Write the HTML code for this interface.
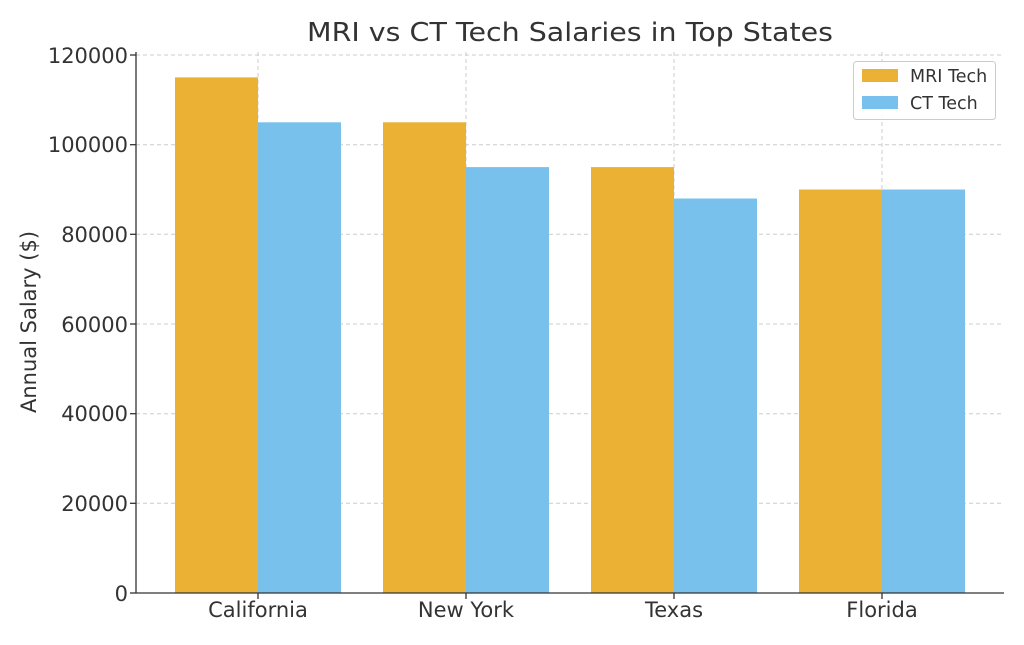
<!DOCTYPE html>
<html><head><meta charset="utf-8"><style>
body{margin:0;background:#fff;}
svg text{font-family:"DejaVu Sans","Liberation Sans",sans-serif;fill:#333;}
</style></head><body>
<svg width="1024" height="640" xmlns="http://www.w3.org/2000/svg">
<rect width="1024" height="640" fill="#fff"/>
<text x="570" y="41" font-size="26" text-anchor="middle" textLength="526" lengthAdjust="spacingAndGlyphs">MRI vs CT Tech Salaries in Top States</text>
<g stroke="#ccc" stroke-width="1" stroke-dasharray="4,3">
<line x1="136" x2="1004" y1="503.3" y2="503.3"/>
<line x1="136" x2="1004" y1="413.7" y2="413.7"/>
<line x1="136" x2="1004" y1="324" y2="324"/>
<line x1="136" x2="1004" y1="234.3" y2="234.3"/>
<line x1="136" x2="1004" y1="144.7" y2="144.7"/>
<line x1="136" x2="1004" y1="55" y2="55"/>
<line x1="258" x2="258" y1="52" y2="593"/>
<line x1="466" x2="466" y1="52" y2="593"/>
<line x1="674" x2="674" y1="52" y2="593"/>
<line x1="882" x2="882" y1="52" y2="593"/>
</g>
<g fill="#EBB134">
<rect x="175" y="77.4" width="83" height="515.6"/>
<rect x="383" y="122.3" width="83" height="470.7"/>
<rect x="591" y="167.1" width="83" height="425.9"/>
<rect x="799" y="189.5" width="83" height="403.5"/>
</g>
<g fill="#78C1EC">
<rect x="258" y="122.3" width="83" height="470.7"/>
<rect x="466" y="167.1" width="83" height="425.9"/>
<rect x="674" y="198.5" width="83" height="394.5"/>
<rect x="882" y="189.5" width="83" height="403.5"/>
</g>
<g stroke="#333" stroke-width="1.3">
<line x1="136" x2="136" y1="52" y2="593"/>
<line x1="136" x2="1004" y1="593" y2="593"/>
<line x1="130" x2="136" y1="593" y2="593"/>
<line x1="130" x2="136" y1="503.3" y2="503.3"/>
<line x1="130" x2="136" y1="413.7" y2="413.7"/>
<line x1="130" x2="136" y1="324" y2="324"/>
<line x1="130" x2="136" y1="234.3" y2="234.3"/>
<line x1="130" x2="136" y1="144.7" y2="144.7"/>
<line x1="130" x2="136" y1="55" y2="55"/>
<line x1="258" x2="258" y1="593" y2="599"/>
<line x1="466" x2="466" y1="593" y2="599"/>
<line x1="674" x2="674" y1="593" y2="599"/>
<line x1="882" x2="882" y1="593" y2="599"/>
</g>
<g font-size="21" text-anchor="end">
<text x="128" y="601">0</text>
<text x="128" y="511">20000</text>
<text x="128" y="421">40000</text>
<text x="128" y="332">60000</text>
<text x="128" y="242">80000</text>
<text x="128" y="152">100000</text>
<text x="128" y="63">120000</text>
</g>
<g font-size="21" text-anchor="middle">
<text x="258" y="617">California</text>
<text x="466" y="617">New York</text>
<text x="674" y="617">Texas</text>
<text x="882" y="617">Florida</text>
</g>
<text transform="translate(36,322) rotate(-90)" font-size="21" text-anchor="middle">Annual Salary ($)</text>
<rect x="853.5" y="61.5" width="142" height="58" rx="3" fill="#fff" fill-opacity="0.85" stroke="#ccc"/>
<rect x="862" y="69" width="36" height="13" fill="#EBB134"/>
<rect x="862" y="96" width="36" height="13" fill="#78C1EC"/>
<text x="910" y="82" font-size="17.5">MRI Tech</text>
<text x="910" y="109" font-size="17.5">CT Tech</text>
</svg>
</body></html>
